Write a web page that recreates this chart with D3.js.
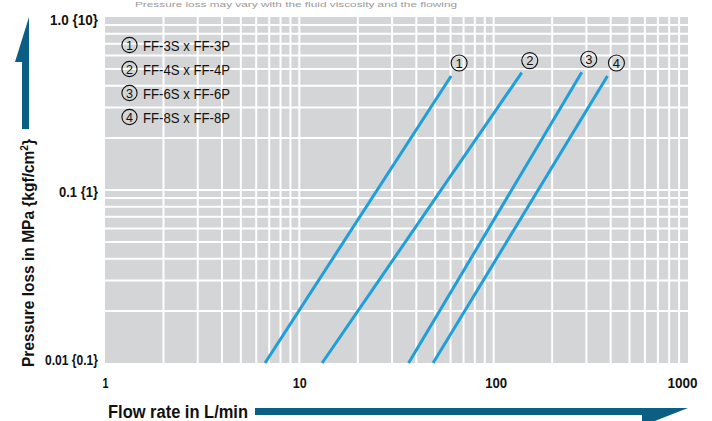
<!DOCTYPE html>
<html><head><meta charset="utf-8">
<script src="https://cdn.jsdelivr.net/npm/d3@7"></script>
<style>
body{margin:0;background:#fff;}
text{font-family:"Liberation Sans",Arial,sans-serif;}
</style></head>
<body><svg id="c" width="712" height="421"></svg>
<script>
// ---- data ----
const seriesNames = ["FF-3S x FF-3P","FF-4S x FF-4P","FF-6S x FF-6P","FF-8S x FF-8P"];
const seriesMarks = ["1","2","3","4"];
// each line: [flow L/min, pressure MPa] at start and end
const line1 = [[6.66,0.01],[60.4,0.456]];
const line2 = [[13.1,0.01],[139.5,0.477]];
const line3 = [[36.5,0.01],[284,0.479]];
const line4 = [[48.8,0.01],[385,0.456]];
const lines = [line1,line2,line3,line4];
const xTickValues = [1,10,100,1000];
const xTickLabels = ["1","10","100","1000"];
const yTickValues = [1,0.1,0.01];
const yTickLabels = ["1.0 {10}","0.1 {1}","0.01 {0.1}"];
const xGrid = [2,3,4,5,6,7,8,9,10,20,30,40,50,60,70,80,90,100,200,300,400,500,600,700,800,900];
const yGrid = [0.02,0.03,0.04,0.05,0.06,0.07,0.08,0.09,0.1,0.2,0.3,0.4,0.5,0.6,0.7,0.8,0.9];

const svg = d3.select("#c");
const L=105,R=688,T=17,B=363;
const x = d3.scaleLog().domain([1,1000]).range([L,R]);
const y = d3.scaleLog().domain([0.01,1]).range([B,T]);

// faint note at top (cut off in the source)
svg.append("text").attr("x",135).attr("y",7).attr("font-size",8).attr("fill","#9a9a9a")
  .attr("textLength",322).attr("lengthAdjust","spacingAndGlyphs")
  .text("Pressure loss may vary with the fluid viscosity and the flowing");

svg.append("rect").attr("x",L).attr("y",T).attr("width",R-L).attr("height",B-T).attr("fill","#d3d5d6");

const g = svg.append("g");
g.selectAll(".vg").data(xGrid).join("line")
  .attr("x1",d=>x(d)).attr("x2",d=>x(d)).attr("y1",T).attr("y2",B)
  .attr("stroke","#fff").attr("stroke-width",2);
g.selectAll(".hg").data(yGrid).join("line")
  .attr("y1",d=>y(d)).attr("y2",d=>y(d)).attr("x1",L).attr("x2",R)
  .attr("stroke","#fff").attr("stroke-width",2);

// axes (labels only)
const xLen = {1:6,10:14,100:22,1000:30};
const xAxis = d3.axisBottom(x).tickValues(xTickValues).tickFormat((d,i)=>xTickLabels[i]).tickSize(0).tickPadding(14);
const xa = svg.append("g").attr("transform",`translate(0,${B})`).call(xAxis);
xa.select(".domain").remove();
xa.selectAll("text").attr("font-size",15).attr("font-weight","bold").attr("fill","#111")
  .attr("font-family",'"Liberation Sans",sans-serif')
  .attr("textLength",d=>xLen[d]).attr("lengthAdjust","spacingAndGlyphs")
  .attr("dx",(d)=>d===1000?-6:(d===100?2:0));

const yLen = {1:48,0.1:39,0.01:53};
const yAxis = d3.axisLeft(y).tickValues(yTickValues).tickFormat((d,i)=>yTickLabels[i]).tickSize(0).tickPadding(7);
const ya = svg.append("g").attr("transform",`translate(${L},0)`).call(yAxis);
ya.select(".domain").remove();
ya.selectAll("text").attr("font-size",14).attr("font-weight","bold").attr("fill","#111")
  .attr("font-family",'"Liberation Sans",sans-serif')
  .attr("textLength",d=>yLen[d]).attr("lengthAdjust","spacingAndGlyphs")
  .attr("dy",(d)=>d===1?"0.55em":(d===0.01?"0.1em":"0.45em"));

// series lines
const lineGen = d3.line().x(d=>x(d[0])).y(d=>y(d[1]));
svg.selectAll(".s").data(lines).join("path")
  .attr("d",lineGen).attr("fill","none").attr("stroke","#1e9fdc").attr("stroke-width",3);

// circled labels at line ends
function circled(sel, cx, cy, r, digit, fs){
  sel.append("circle").attr("cx",cx).attr("cy",cy).attr("r",r)
    .attr("fill","none").attr("stroke","#111").attr("stroke-width",1.1);
  sel.append("text").attr("x",cx).attr("y",cy+fs*0.36).attr("text-anchor","middle")
    .attr("font-size",fs).attr("fill","#111").text(digit);
}
const markOffsets = [[8,-13],[8,-12],[7,-13],[9,-13]];
const mg = svg.append("g");
lines.forEach((d,i)=>{
  circled(mg, x(d[1][0])+markOffsets[i][0], y(d[1][1])+markOffsets[i][1], 8, seriesMarks[i], 13);
});

// legend
const lg = svg.append("g");
const rowsY = [45,69,93,117];
seriesNames.forEach((n,i)=>{
  circled(lg, 129.5, rowsY[i], 7.6, seriesMarks[i], 12.5);
  lg.append("text").attr("x",143).attr("y",rowsY[i]+5.5).attr("font-size",15.5).attr("fill","#111")
    .attr("textLength",87).attr("lengthAdjust","spacingAndGlyphs").text(n);
});

// axis titles with arrows
const arrowC = "#0b5f84";
svg.append("path").attr("fill",arrowC)
  .attr("d","M22,129 L22,62 L15,62 L29,17 L29,129 Z");
svg.append("text").attr("transform","translate(34,253) rotate(-90)")
  .attr("text-anchor","middle").attr("font-size",17).attr("font-weight","bold").attr("fill","#111")
  .attr("textLength",228).attr("lengthAdjust","spacingAndGlyphs")
  .html('Pressure loss in MPa {kgf/cm<tspan baseline-shift="super" font-size="11">2</tspan>}');

svg.append("text").attr("x",108).attr("y",418).attr("font-size",17.5).attr("font-weight","bold").attr("fill","#111")
  .attr("textLength",140).attr("lengthAdjust","spacingAndGlyphs")
  .text("Flow rate in L/min");
svg.append("path").attr("fill",arrowC)
  .attr("d","M255,408 L688,408 L642,426 L642,415 L255,415 Z");
</script></body></html>
